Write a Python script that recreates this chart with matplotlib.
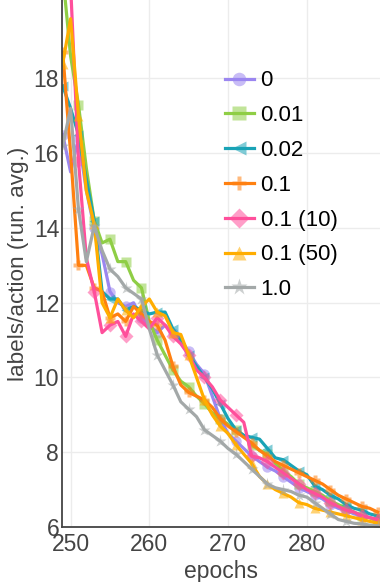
import numpy as np
import matplotlib
matplotlib.use("Agg")
import matplotlib.pyplot as plt
from matplotlib.colors import to_rgba

plt.rcParams['font.family'] = ['Liberation Sans', 'DejaVu Sans']

epochs = list(range(249, 290))

labels = ['0', '0.01', '0.02', '0.1', '0.1 (10)', '0.1 (50)', '1.0']
colors = ['#9b86f0', '#8fce45', '#19a3b6', '#ff8010', '#ff4f9b', '#ffad00', '#a3a8a8']
markers = ['o', 's', '<', 'P', 'D', '^', '*']

run_0 = [16.5, 15.5, 16.4, 15.0, 14.0, 13.3, 12.3, 12.0, 11.9, 12.0, 11.6, 11.4, 11.2,
         11.4, 11.2, 11.0, 10.7, 10.35, 10.1, 9.5, 8.9, 8.5, 8.3, 8.1, 7.9, 7.75, 7.6,
         7.5, 7.35, 7.2, 7.05, 6.95, 6.85, 6.75, 6.6, 6.5, 6.45, 6.35, 6.3, 6.25, 6.2]
run_001 = [20.8, 18.6, 17.3, 15.6, 14.2, 13.6, 13.7, 13.1, 13.1, 12.6, 12.4, 11.5, 11.0,
           10.6, 10.2, 9.9, 9.75, 9.5, 9.3, 9.05, 8.9, 8.75, 8.6, 8.45, 8.2, 8.05, 7.95,
           7.7, 7.5, 7.35, 7.15, 7.05, 6.95, 6.85, 6.7, 6.6, 6.5, 6.4, 6.3, 6.25, 6.15]
run_002 = [17.8, 17.2, 16.5, 15.3, 14.2, 12.3, 12.1, 12.1, 11.8, 11.9, 11.8, 11.7, 11.75,
           11.75, 11.3, 11.0, 10.6, 10.3, 10.0, 9.7, 9.3, 8.9, 8.6, 8.45, 8.4, 8.35, 8.1,
           7.85, 7.8, 7.65, 7.5, 7.4, 7.1, 7.0, 6.85, 6.75, 6.6, 6.5, 6.45, 6.35, 6.3]
run_01 = [18.7, 16.0, 13.0, 13.0, 12.4, 12.3, 11.6, 11.7, 11.5, 11.9, 11.7, 11.5, 11.4,
          11.0, 10.3, 9.8, 9.6, 9.5, 9.4, 9.2, 8.9, 8.7, 8.55, 8.4, 8.25, 8.05, 7.9,
          7.75, 7.65, 7.55, 7.45, 7.35, 7.25, 7.15, 7.0, 6.85, 6.75, 6.65, 6.55, 6.5, 6.4]
run_01_10 = [24.0, 20.5, 15.8, 13.2, 12.3, 11.2, 11.4, 11.5, 11.1, 11.7, 11.5, 11.3, 11.6,
             11.4, 11.1, 10.9, 10.6, 10.2, 10.0, 9.75, 9.4, 9.2, 9.0, 8.8, 7.9, 7.85, 7.75,
             7.6, 7.45, 7.3, 7.15, 7.0, 6.9, 6.8, 6.65, 6.55, 6.45, 6.4, 6.3, 6.25, 6.2]
run_01_50 = [18.4, 19.6, 17.0, 15.0, 14.1, 12.0, 11.6, 12.1, 11.8, 11.6, 11.9, 12.1, 11.75,
             11.65, 11.2, 11.15, 10.6, 10.0, 9.4, 9.0, 8.7, 8.5, 8.2, 7.95, 7.7, 7.35, 7.15,
             7.0, 6.9, 6.8, 6.65, 6.6, 6.5, 6.45, 6.4, 6.35, 6.3, 6.25, 6.2, 6.15, 6.1]
run_1 = [16.2, 17.2, 14.5, 13.1, 14.05, 13.4, 12.9, 12.7, 12.4, 12.25, 12.1, 11.3, 10.6,
         10.2, 9.8, 9.35, 9.15, 8.95, 8.6, 8.45, 8.3, 8.1, 7.95, 7.75, 7.55, 7.35, 7.15,
         7.05, 7.0, 6.95, 6.85, 6.8, 6.65, 6.5, 6.35, 6.2, 6.15, 6.1, 6.08, 6.05, 6.03]

series = [run_0, run_001, run_002, run_01, run_01_10, run_01_50, run_1]

fig = plt.figure(figsize=(3.8, 5.82), dpi=100)
ax = fig.add_axes([0.163, 0.0945, 0.837, 0.9055])

for vals, lab, col, mk in zip(series, labels, colors, markers):
    ax.plot(epochs, vals, color=col, lw=2.3, marker=mk, markersize=9.5 if mk == '*' else 7.5,
            markevery=2, markerfacecolor=to_rgba(col, 0.55), markeredgecolor='none',
            label=lab)

ax.set_xlim(248.9, 289.3)
ax.set_ylim(6, 20.1)
ax.set_xticks([250, 260, 270, 280])
ax.set_yticks([6, 8, 10, 12, 14, 16, 18])
ax.grid(True, color='#ececec', lw=1)
ax.set_axisbelow(True)

for side in ['top', 'right']:
    ax.spines[side].set_visible(False)
for side in ['left', 'bottom']:
    ax.spines[side].set_color('#444444')
    ax.spines[side].set_linewidth(1.3)

ax.tick_params(length=0, labelsize=16.5, labelcolor='#444444')
ax.tick_params(axis='x', pad=4)
ax.tick_params(axis='y', pad=2)
ax.set_xlabel('epochs', fontsize=16.5, color='#444444', labelpad=3)
ax.set_ylabel('labels/action (run. avg.)', fontsize=16.2, color='#444444', labelpad=3)

leg = ax.legend(loc='upper left', bbox_to_anchor=(0.592, 0.879), bbox_transform=fig.transFigure,
                frameon=False, fontsize=16, handlelength=1.3, handletextpad=0.3,
                labelspacing=0.62, borderpad=0, borderaxespad=0, markerscale=1.3)

fig.savefig('out.png', dpi=100)
